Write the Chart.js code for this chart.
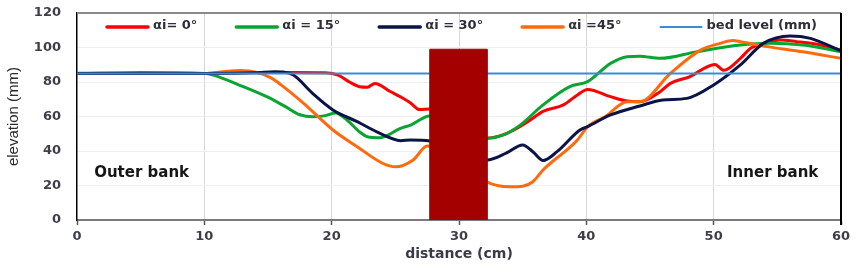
<!DOCTYPE html>
<html>
<head>
<meta charset="utf-8">
<script src="https://cdn.jsdelivr.net/npm/chart.js@4/dist/chart.umd.min.js"></script>
<style>
html,body{margin:0;padding:0;background:#fff;}
#wrap{width:866px;height:266px;}
</style>
</head>
<body>
<div id="wrap"><canvas id="c" width="866" height="266"></canvas></div>
<script>
// ---------- data ----------
const seriesLabels = ['\u03b1i= 0\u00b0', '\u03b1i = 15\u00b0', '\u03b1i = 30\u00b0', '\u03b1i =45\u00b0'];

const x0  = [0,5,10,13,17,19.5,20.5,21.4,22.2,22.8,23.4,24.6,25.5,26.2,26.9,27.7,30,32.2,33.5,34.5,35.6,36.6,38.2,39.3,40.1,41.9,43.2,44.2,45.8,46.6,48.1,50.1,50.8,52.1,52.9,54,55.2,56.5,58,60];
const y0  = [85,85,85,85.5,85.5,85.3,84,80,77.3,77,79.2,74.5,71,67.8,64,64.3,55,47.5,49.5,53,58,63,66.7,72.5,75.7,71.5,69,68.6,74.4,79.2,83,90.2,86.8,93.7,99.5,102.5,104.3,103.4,102,98.6];

const x15 = [0,5,10,10.7,13,14.9,16.3,17.5,18.5,19.5,20.3,21.2,22.2,22.8,23.8,25.4,26.2,27.7,30,32.2,33.5,34.8,36.6,38.7,40.1,41.9,43.2,44.2,45.8,48.7,52.1,54.4,57,60];
const y15 = [85,85.5,85,84,77.5,71.5,66,61,59.8,60.5,62,58,51,48.3,47.7,53.1,55,60.3,54,47.3,49.3,55,66.7,77.3,80.2,90.8,94.7,95,93.7,97.6,101.4,102.4,101.4,97.6];

const x30 = [0,5,10,14,15.5,16.2,17,18.5,20.1,22,23.8,25.4,26.2,27.7,30,32.2,33.7,35,35.8,36.6,37.7,39.5,40.1,41.9,44.2,46,47.9,50,52.1,53.9,56,57.6,60];
const y30 = [85,85,85,85.3,86,85.8,84,73.4,63.8,57,50.2,46,46.4,45.8,40,34.8,38.7,43.5,39.6,34.5,39.6,52.2,54.1,60.9,66.1,69.6,70.5,78.3,89.9,102.4,106.7,105.3,98];

const x45 = [0,5,10,11.5,12.8,14.1,15.2,16,17.8,20.1,22,24,25,26.4,27.5,30,32.2,33,34,35,35.8,36.6,39.3,40.1,41.5,43.2,44.2,46.6,49,50.5,51.5,52.1,54.2,57,60];
const y45 = [85,85,85,86,86.6,85.6,82.5,78.5,67.6,52.2,42.5,32.9,30.8,34.8,42.9,38,22.2,20,19.3,19.6,22.2,29,46.4,54.1,60,68.6,68.6,85,98.6,102.4,104,103.4,100.5,97.5,93.7];

const bedLabel = 'bed level (mm)';
const bedX = [0, 60];
const bedY = [85, 85];

const obstacleX = [27.7, 32.2];
const obstacleTop = 99;

const bankLabels = ['Outer bank', 'Inner bank'];
const bankLabelX = [1.35, 51.05];
const bankLabelY = [27, 27];

const xTicks = [0,10,20,30,40,50,60];
const yTicks = [0,20,40,60,80,100,120];

// ---------- build ----------
function pts(xs, ys){ return xs.map((x,i)=>({x:x, y:ys[i]})); }
const colors = ['#ff0000', '#0aa531', '#0b1448', '#ff6a0d'];
const drawOrder = [10, 9, 7, 8];
const ys = [y0,y15,y30,y45], xs=[x0,x15,x30,x45];

const datasets = seriesLabels.map((lab,i)=>({
  label: lab, data: pts(xs[i], ys[i]), borderColor: colors[i], backgroundColor: colors[i],
  borderWidth: 3, pointRadius: 0, cubicInterpolationMode: 'monotone', fill: false, order: drawOrder[i], inLegend: true
}));
datasets.push({label: bedLabel, data: pts(bedX, bedY), borderColor:'#3b8bd8', backgroundColor:'#3b8bd8',
  borderWidth: 2, pointRadius: 0, fill: false, order: 2, inLegend: true, legendWidth: 2});
datasets.push({label: 'obstacle', data: [
   {x:obstacleX[0], y:0},{x:obstacleX[0], y:obstacleTop},{x:obstacleX[1], y:obstacleTop},{x:obstacleX[1], y:0}],
  borderColor:'#a40000', backgroundColor:'#a40000', borderWidth:1, pointRadius:0, tension:0, fill:'origin', order:-1});

const tickFont = {family:'DejaVu Sans', size:13, weight:'bold'};
const tickColor = '#3e3e4a';

const extras = {
  id:'extras',
  afterDraw(chart){
    const ctx = chart.ctx, a = chart.chartArea, xs_ = chart.scales.x, ys_ = chart.scales.y;
    ctx.save();
    // top & right borders
    ctx.strokeStyle = '#8a8a8a'; ctx.lineWidth = 2;
    ctx.beginPath(); ctx.moveTo(a.left, a.top); ctx.lineTo(a.right, a.top); ctx.stroke();
    ctx.strokeStyle = '#000'; ctx.lineWidth = 2;
    ctx.beginPath(); ctx.moveTo(a.right, a.top); ctx.lineTo(a.right, a.bottom + 5); ctx.stroke();
    // bank labels
    ctx.fillStyle = '#161616'; ctx.font = 'bold 15px "DejaVu Sans"'; ctx.textBaseline = 'middle'; ctx.textAlign='left';
    bankLabels.forEach((t,i)=> ctx.fillText(t, xs_.getPixelForValue(bankLabelX[i]), ys_.getPixelForValue(bankLabelY[i])));
    // legend
    const items = chart.data.datasets.filter(d=>d.inLegend);
    ctx.font = 'bold 13px "DejaVu Sans"';
    const lineLen = 41, gapText = 5, startX = 107, endX = 817, ly = 26;
    const widths = items.map(d=>ctx.measureText(d.label).width);
    const total = widths.reduce((s,w)=>s+w+lineLen+gapText,0);
    const gap = (endX - startX - total)/(items.length-1);
    let x = startX;
    items.forEach((d,i)=>{
      ctx.strokeStyle = d.borderColor; ctx.lineWidth = d.legendWidth || 3.5; ctx.lineCap='round';
      ctx.beginPath(); ctx.moveTo(x, ly+1); ctx.lineTo(x+lineLen, ly+1); ctx.stroke();
      ctx.fillStyle = '#2e2e3a'; ctx.textAlign='left'; ctx.textBaseline='middle';
      ctx.fillText(d.label, x+lineLen+gapText, ly);
      x += lineLen + gapText + widths[i] + gap;
    });
    ctx.restore();
  }
};

function noPad(s){ s.paddingTop = 0; s.paddingBottom = 0; s.paddingLeft = 0; s.paddingRight = 0; }

new Chart(document.getElementById('c'), {
  type: 'line',
  data: { datasets },
  options: {
    responsive: false, animation: false, devicePixelRatio: 1,
    layout: { padding: {top:13, right:25, left:0, bottom:0}, autoPadding: false },
    plugins: { legend:{display:false}, tooltip:{enabled:false} },
    scales: {
      x: {
        type:'linear', min:0, max:60,
        afterBuildTicks(s){ s.ticks = xTicks.map(v=>({value:v})); },
        afterFit(s){ s.height = 46; noPad(s); },
        grid: { color:(c)=> (c.tick && (c.tick.value===0||c.tick.value===60)) ? 'rgba(0,0,0,0)' : '#d6d6d6', lineWidth:1,
                drawTicks:true, tickLength:5, tickColor:'#555', tickWidth:1.5 },
        border: { color:'#7a7a7a', width:2 },
        ticks: { font: tickFont, color: tickColor, padding: 4, maxRotation:0 },
        title: { display:true, text:'distance (cm)', font:{family:'DejaVu Sans', size:14, weight:'bold'}, color:'#3a3a48', padding:{top:0,bottom:3} }
      },
      y: {
        min:0, max:120,
        afterBuildTicks(s){ s.ticks = yTicks.map(v=>({value:v})); },
        afterFit(s){ s.width = 77; noPad(s); },
        grid: { color:(c)=> (c.tick && (c.tick.value===0||c.tick.value===120)) ? 'rgba(0,0,0,0)' : '#efefef', drawTicks:false },
        border: { color:'#000', width:1.5 },
        ticks: { font: tickFont, color: tickColor, padding: 16 },
        title: { display:true, text:'elevation (mm)', font:{family:'Liberation Sans', size:15}, color:'#2a2a2a', padding:{top:5,bottom:0} }
      }
    }
  },
  plugins:[extras]
});
</script>
</body>
</html>
